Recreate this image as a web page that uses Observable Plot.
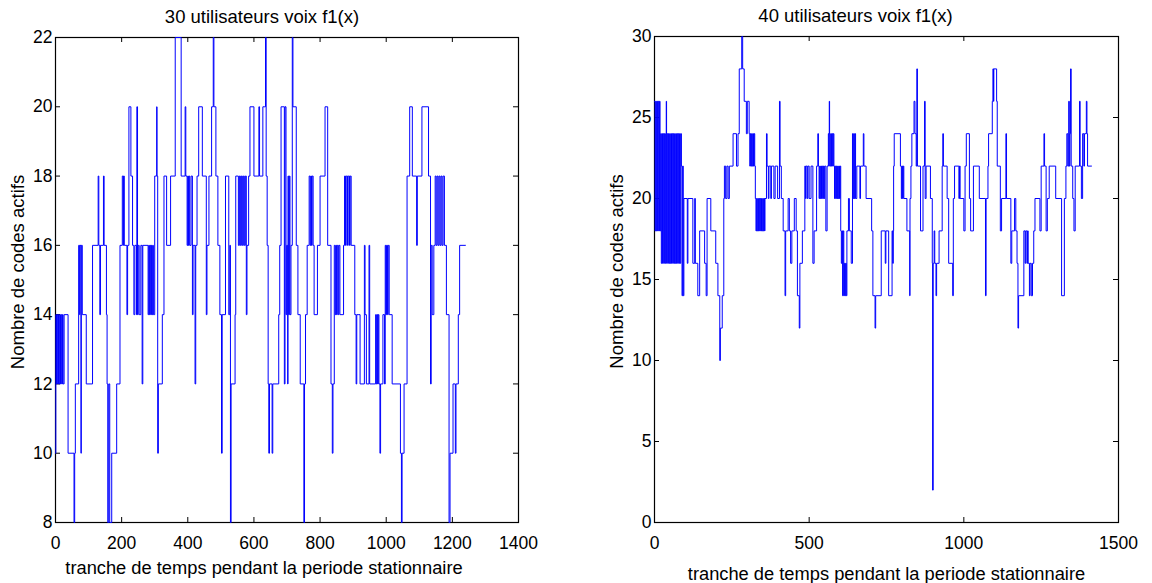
<!DOCTYPE html>
<html><head><meta charset="utf-8">
<script src="https://cdn.jsdelivr.net/npm/d3@7"></script>
<script src="https://cdn.jsdelivr.net/npm/@observablehq/plot@0.6"></script>
<style>
body{margin:0;background:#fff;font-family:"Liberation Sans",Arial,sans-serif}
#wrap{position:relative;width:1152px;height:583px;overflow:hidden}
#wrap svg{position:absolute;top:0}
</style></head><body><div id="wrap"></div>
<script>
// [time slot, active codes] change points (step series)
const series30 = [[0,10],[1,14],[3,12],[5,14],[7,12],[9,14],[11,12],[13,14],[15,12],[17,14],[19,12],[21,14],[23,12],[26,14],
[38,10],[56,8],[58,10],[60,12],[70,16],[73,14],[74,16],[77,10],[78,16],[81,14],[93,12],[112,16],[129,18],[131,16],[134,14],[136,16],[145,18],[147,16],[154,14],[156,12],[158,8],[161,12],[164,8],[170,10],[185,12],[195,16],[202,18],[205,16],[206,18],[208,16],[216,14],[218,16],[222,20],[228,18],[233,16],[237,14],[240,16],[245,14],[246,20],[248,14],[250,16],[253,14],[258,16],[262,12],[264,16],
[280,14],[282,16],[284,14],[286,16],[288,14],[290,16],[292,14],[294,16],[296,14],[300,18],[306,20],[307,18],[309,10],[311,12],[323,14],[328,18],[336,16],[348,18],[362,22],[380,18],[392,20],[394,18],[398,16],[400,18],[402,16],[404,18],[406,16],[410,18],[414,14],[416,16],[422,12],[424,16],[428,18],[433,20],[444,18],[456,14],[458,16],[464,18],[472,20],[477,22],[479,20],[485,18],[491,16],[497,14],[502,10],[504,14],[514,18],[524,14],[527,16],[529,8],[531,12],[543,14],[545,18],[553,16],[556,18],[559,16],[562,18],[565,16],[568,18],[571,16],[574,18],[577,14],[579,16],[584,18],[588,20],[600,18],[615,20],[617,18],[627,20],[633,20],[635,22],[637,18],[640,16],[643,12],[645,10],[647,12],[655,10],[657,12],[675,14],[678,16],[682,20],[692,12],[694,20],[697,14],[699,16],
[702,12],[703,18],[705,14],[707,18],[709,14],[712,16],[716,22],[718,20],[728,16],[733,14],[740,12],[751,8],[753,12],[756,14],[761,16],[767,18],[770,16],[772,18],[774,16],[776,18],[779,16],[782,14],[792,16],[800,18],[815,20],[823,16],[833,12],[837,10],[839,12],[843,16],[846,14],[848,16],[850,14],[852,16],[855,14],[857,16],[860,14],[871,16],[874,18],[877,16],[879,18],[883,16],[885,18],[889,16],[891,18],[894,16],[905,14],[909,12],[911,14],[915,14],[921,12],[934,16],[936,14],[940,12],[948,16],[950,12],[968,14],[970,12],[972,14],[974,12],[976,14],[978,12],[981,10],[983,12],[990,14],[995,12],[997,16],[999,14],[1001,16],[1004,14],[1006,16],[1009,14],[1018,12],[1043,10],[1046,8],[1048,10],[1054,12],[1063,18],[1071,20],[1079,18],[1092,16],[1094,18],[1108,20],[1128,18],[1134,12],[1136,16],[1139,14],[1144,16],[1148,18],[1151,16],[1154,18],[1157,16],[1160,18],[1163,16],[1166,18],[1169,16],[1172,18],[1176,16],[1182,14],[1190,8],[1193,10],[1202,12],[1209,10],[1211,12],[1218,14],[1222,16],[1240,16]];

const series40 = [[0,26],[2,18],[4,26],[6,18],[8,26],[10,18],[12,26],[14,18],[16,26],[18,18],
[20,24],[22,16],[24,24],[26,16],[28,24],[30,16],[32,24],[34,16],[36,24],[38,26],[39,16],[41,24],[43,16],[45,24],[47,16],[49,24],[51,16],[53,24],[55,16],[57,24],[59,16],[61,24],[63,16],[65,24],[67,16],[69,24],[71,16],[73,24],[75,16],[77,24],[79,16],[81,24],[83,16],[85,24],
[87,22],[89,14],[91,22],[93,14],[95,20],[106,16],[108,20],[124,16],[130,20],[132,16],[140,14],[146,18],[162,16],[167,14],[170,20],[182,18],[198,16],[205,14],[211,10],[213,12],[219,14],[224,20],[226,22],[230,20],[234,22],[238,20],[242,22],[254,24],[265,22],[270,24],[274,28],[282,30],[285,28],[290,26],[297,24],[300,26],[306,24],
[308,22],[310,24],[312,22],[314,24],[316,22],[318,24],[320,22],[322,24],[324,22],[326,20],[328,18],[330,20],[332,18],[334,20],[336,18],[338,20],[340,18],[342,20],[344,18],[346,20],[348,18],[350,20],[352,18],[354,20],[356,18],
[357,20],[362,24],[364,22],[368,20],[370,22],[376,20],[378,22],[386,20],[390,22],[398,20],[404,26],[406,22],[410,20],[416,18],[422,14],[424,18],[432,20],[436,18],[440,16],[444,18],[452,20],[458,18],[462,14],[468,12],[470,16],[478,18],[486,22],[488,20],[490,22],[494,20],[496,22],[500,20],[506,22],[512,16],[516,18],[524,22],
[528,24],[530,22],[532,20],[534,22],[536,20],[538,22],[540,20],[542,22],[544,20],[546,22],[548,20],[550,22],[554,18],[558,22],[562,24],[564,22],[565,26],[566,24],[568,22],[570,24],[572,22],[574,24],[576,22],[578,24],[580,22],[582,20],[584,22],[586,20],[588,22],[590,20],[592,22],[594,20],[596,22],[598,20],[600,22],[602,18],[604,16],[606,18],[608,14],[610,18],[612,14],[614,16],[616,14],[618,16],[620,14],[622,18],[627,20],[630,18],[636,16],[640,24],[642,20],[644,24],[646,20],[648,24],[650,20],[654,22],[664,20],[666,22],[675,24],[677,22],[684,20],[702,18],[706,14],[713,12],[715,14],[733,18],[746,16],[748,18],[757,14],[768,18],[770,16],[772,18],
[773,22],[775,24],[795,22],[798,20],[800,22],[802,20],[804,22],[806,20],[816,18],[825,14],[826,20],[829,22],[832,24],[839,26],[842,24],[846,22],[848,28],[850,22],[860,18],[868,22],[873,26],[875,20],[878,22],[892,20],[898,16],[899,2],[901,16],[904,18],[906,16],[910,14],[912,16],[920,18],[930,22],[932,24],[934,22],[946,20],[951,16],[964,14],[966,20],[970,22],[984,20],[986,22],[988,20],[1000,18],[1004,22],[1008,24],[1018,20],[1022,18],[1031,22],[1050,20],[1070,14],[1072,20],[1078,22],[1080,24],[1092,26],[1094,28],[1096,26],[1097,28],[1106,26],[1108,22],[1118,18],[1122,20],[1136,24],[1138,20],[1152,16],[1155,18],[1164,20],[1168,18],[1172,16],[1175,12],[1177,14],[1194,18],[1198,16],[1200,18],[1204,16],[1206,18],[1208,16],[1212,14],[1214,16],[1218,14],[1222,16],[1226,18],[1230,20],[1246,18],[1250,22],[1259,24],[1261,22],[1266,18],[1270,20],[1276,22],[1297,20],[1316,14],[1325,20],[1330,22],[1333,24],[1336,22],[1339,26],[1341,22],[1343,24],[1345,28],[1347,22],[1352,20],[1356,18],[1360,22],[1374,26],[1376,22],[1380,20],[1384,24],[1388,22],[1390,24],[1396,26],[1398,24],[1400,22],[1413,22]];

const xTicks30 = [0,200,400,600,800,1000,1200,1400];
const yTicks30 = [8,10,12,14,16,18,20,22];
const xTicks40 = [0,500,1000,1500];
const yTicks40 = [0,5,10,15,20,25,30];
const title30 = "30 utilisateurs voix f1(x)";
const title40 = "40 utilisateurs voix f1(x)";
const xLabel = "tranche de temps pendant la periode stationnaire";
const yLabel = "Nombre de codes actifs";

const FONT = '"Liberation Sans", Arial, sans-serif';

function panel({data, xDomain, yDomain, xTicks, yTicks, title, left, width, ml, mr, mt, mb, titleDx, xLabelDx, xLabelDy}) {
  const h = 583;
  const fw = width - ml - mr, fh = h - mt - mb;
  const tl = 5;
  const svg = Plot.plot({
    width, height: h, marginLeft: ml, marginRight: mr, marginTop: mt, marginBottom: mb,
    style: {fontFamily: FONT, fontSize: "17.5px", color: "#000", background: "transparent", overflow: "visible"},
    x: {domain: xDomain, ticks: xTicks, tickFormat: d => String(d), label: null, tickSize: 0, tickPadding: 14},
    y: {domain: yDomain, ticks: yTicks, tickFormat: d => String(d), label: null, tickSize: 0, tickPadding: 3},
    marks: [
      Plot.frame({stroke: "#000", strokeWidth: 1.2}),
      Plot.tickX(xTicks, {x: d => d, insetTop: fh - tl, stroke: "#000"}),
      Plot.tickX(xTicks, {x: d => d, insetBottom: fh - tl, stroke: "#000"}),
      Plot.tickY(yTicks, {y: d => d, insetRight: fw - tl, stroke: "#000"}),
      Plot.tickY(yTicks, {y: d => d, insetLeft: fw - tl, stroke: "#000"}),
      Plot.line(data, {x: d => d[0], y: d => d[1], curve: "step-after", stroke: "#0000ff", strokeWidth: 1}),
      Plot.text([title], {frameAnchor: "top", textAnchor: "middle", lineAnchor: "middle", dx: titleDx, dy: -20, fontSize: 18.5, fill: "#000"}),
      Plot.text([xLabel], {frameAnchor: "bottom", textAnchor: "middle", lineAnchor: "middle", dx: xLabelDx, dy: xLabelDy, fontSize: 18.3, fill: "#000"}),
      Plot.text([yLabel], {frameAnchor: "left", textAnchor: "middle", lineAnchor: "middle", rotate: -90, dx: -37, dy: -8, fontSize: 18.5, fill: "#000"})
    ]
  });
  svg.style.left = left + "px";
  return svg;
}

const wrap = document.getElementById("wrap");
wrap.appendChild(panel({data: series30, xDomain: [0, 1400], yDomain: [8, 22], xTicks: xTicks30, yTicks: yTicks30,
  title: title30, left: 0, width: 576, ml: 55, mr: 58, mt: 37, mb: 61, titleDx: -25, xLabelDx: -23, xLabelDy: 46}));
wrap.appendChild(panel({data: series40, xDomain: [0, 1500], yDomain: [0, 30], xTicks: xTicks40, yTicks: yTicks40,
  title: title40, left: 576, width: 576, ml: 78, mr: 34, mt: 36, mb: 61, titleDx: -31, xLabelDx: 0, xLabelDy: 52}));
</script></body></html>
